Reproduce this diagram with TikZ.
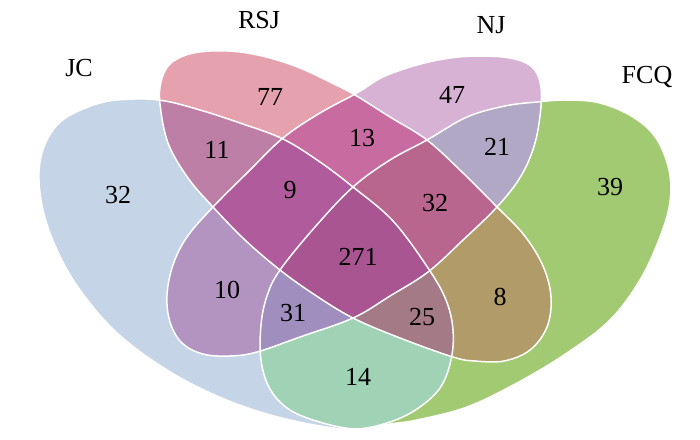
\documentclass[tikz,border=0pt]{standalone}
\usepackage{fontspec}
\setmainfont{Liberation Serif}

\definecolor{jcblue}{HTML}{C6D4E7}
\definecolor{rsjpink}{HTML}{E5A1AE}
\definecolor{njpurple}{HTML}{D8B2D4}
\definecolor{fcqgreen}{HTML}{A2CA73}
\definecolor{cJR}{HTML}{BD7FA6}
\definecolor{cJN}{HTML}{B394C1}
\definecolor{cJF}{HTML}{A0D2B5}
\definecolor{cRN}{HTML}{C86BA0}
\definecolor{cRF}{HTML}{B09B69}
\definecolor{cNF}{HTML}{B1A8C5}
\definecolor{cJRN}{HTML}{AF5B9C}
\definecolor{cJRF}{HTML}{A57A87}
\definecolor{cJNF}{HTML}{A08EBF}
\definecolor{cRNF}{HTML}{B8668E}
\definecolor{cAll}{HTML}{A85592}

\newcommand{\shapeJC}{plot[smooth cycle, tension=0.6] coordinates {(100,103) (135,99) (165,101) (200,110) (240,123) (283,139) (320,162) (353,187) (393,221) (428,268) (446,300) (453,330) (451,360) (440,388) (417,409) (390,422) (357,429) (320,426) (267,414) (217,396) (167,370) (117,333) (80,290) (57,250) (43,210) (39,172) (46,142) (64,119)}}
\newcommand{\shapeFCQ}{plot[smooth cycle, tension=0.6] coordinates {(537,102) (567,100) (600,103) (633,117) (656,138) (669,170) (670,202) (660,237) (640,280) (610,320) (567,353) (517,383) (467,407) (417,420) (390,424) (357,429) (323,423) (290,410) (270,389) (261,360) (261,325) (267,296) (280,270) (315,227) (353,187) (390,160) (427,140) (467,117) (505,106)}}
\newcommand{\shapeRSJ}{plot[smooth cycle, tension=0.6] coordinates {(160,104) (161,82) (169,65) (186,55) (210,51) (240,52) (270,58) (300,68) (330,82) (355,95) (390,117) (427,140) (462,172) (497,207) (524,235) (543,266) (551,297) (547,327) (530,350) (504,361) (475,361) (453,357) (400,338) (353,318) (315,295) (280,270) (245,240) (213,207) (188,178) (168,143)}}
\newcommand{\shapeNJ}{plot[smooth cycle, tension=0.6] coordinates {(357,93) (383,77) (417,65) (450,58) (480,56) (510,58) (531,66) (540,82) (541,106) (535,143) (521,176) (497,207) (463,240) (428,272) (390,296) (353,318) (300,337) (257,352) (230,356) (203,354) (182,343) (170,322) (167,295) (173,265) (187,237) (213,207) (248,172) (283,138) (320,113)}}

\begin{document}
\begin{tikzpicture}[x=1pt, y=-1pt]
\tikzstyle{SetName}=[font=\fontsize{26}{26}\selectfont, inner sep=0pt]
\tikzstyle{Count}=[font=\fontsize{26}{26}\selectfont, inner sep=0pt]
\tikzstyle{Outline}=[draw=white, line width=1.5pt]
\useasboundingbox (0,0) rectangle (700,439);
\fill[jcblue] \shapeJC;
\fill[fcqgreen] \shapeFCQ;
\fill[rsjpink] \shapeRSJ;
\fill[njpurple] \shapeNJ;
\begin{scope}
\clip \shapeJC;
\fill[cJR] \shapeRSJ;
\fill[cJN] \shapeNJ;
\fill[cJF] \shapeFCQ;
\end{scope}
\begin{scope}
\clip \shapeRSJ;
\fill[cRN] \shapeNJ;
\fill[cRF] \shapeFCQ;
\end{scope}
\begin{scope}
\clip \shapeNJ;
\fill[cNF] \shapeFCQ;
\end{scope}
\begin{scope}
\clip \shapeJC;
\clip \shapeRSJ;
\fill[cJRN] \shapeNJ;
\fill[cJRF] \shapeFCQ;
\end{scope}
\begin{scope}
\clip \shapeJC;
\clip \shapeNJ;
\fill[cJNF] \shapeFCQ;
\end{scope}
\begin{scope}
\clip \shapeRSJ;
\clip \shapeNJ;
\fill[cRNF] \shapeFCQ;
\end{scope}
\begin{scope}
\clip \shapeJC;
\clip \shapeRSJ;
\clip \shapeNJ;
\fill[cAll] \shapeFCQ;
\end{scope}
\draw[Outline] \shapeJC;
\draw[Outline] \shapeFCQ;
\draw[Outline] \shapeRSJ;
\draw[Outline] \shapeNJ;
\node[SetName] (nameJC) at (79,68) {JC};
\node[SetName] (nameRSJ) at (259,20) {RSJ};
\node[SetName] (nameNJ) at (491,25) {NJ};
\node[SetName] (nameFCQ) at (647,77) {FCQ};
\node[Count] (onlyJC) at (118,195) {32};
\node[Count] (onlyRSJ) at (270,97) {77};
\node[Count] (onlyNJ) at (452,95) {47};
\node[Count] (onlyFCQ) at (610,187) {39};
\node[Count] (jcRsj) at (217,150) {11};
\node[Count] (rsjNj) at (362,138) {13};
\node[Count] (njFcq) at (497,147) {21};
\node[Count] (jcRsjNj) at (290,190) {9};
\node[Count] (rsjNjFcq) at (435,203) {32};
\node[Count] (allFour) at (358,257) {271};
\node[Count] (jcNj) at (227,290) {10};
\node[Count] (rsjFcq) at (500,297) {8};
\node[Count] (jcNjFcq) at (293,313) {31};
\node[Count] (jcRsjFcq) at (422,317) {25};
\node[Count] (jcFcq) at (358,377) {14};
\end{tikzpicture}
\end{document}
